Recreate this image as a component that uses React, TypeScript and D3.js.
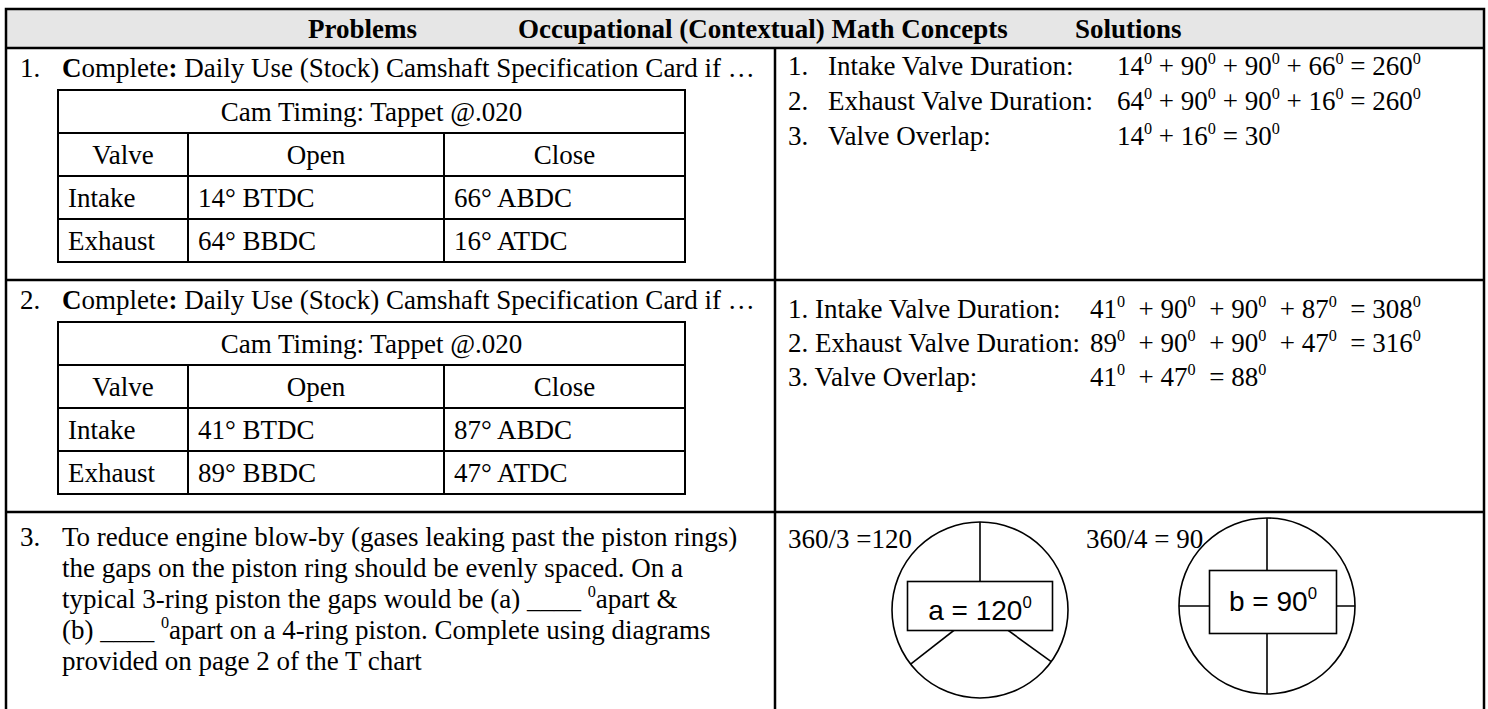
import React from "react";
import * as d3 from "d3";

// ---- content ----
const headers = ["Problems", "Occupational (Contextual) Math Concepts", "Solutions"];
const timingTitle = "Cam Timing: Tappet @.020";
const timingColumns = ["Valve", "Open", "Close"];
const valves = ["Intake", "Exhaust"];
const problem1Open = ["14° BTDC", "64° BBDC"];
const problem1Close = ["66° ABDC", "16° ATDC"];
const problem2Open = ["41° BTDC", "89° BBDC"];
const problem2Close = ["87° ABDC", "47° ATDC"];
const solutionLabels = ["Intake Valve Duration:", "Exhaust Valve Duration:", "Valve Overlap:"];
const problem1Terms = [[14, 90, 90, 66], [64, 90, 90, 16], [14, 16]];
const problem1Totals = [260, 260, 30];
const problem2Terms = [[41, 90, 90, 87], [89, 90, 90, 47], [41, 47]];
const problem2Totals = [308, 316, 88];
const problem3Lines = [
  "To reduce engine blow-by (gases leaking past the piston rings)",
  "the gaps on the piston ring should be evenly spaced. On a",
  "typical 3-ring piston the gaps would be (a) ____ {0}apart &",
  "(b) ____ {0}apart on a 4-ring piston. Complete using diagrams",
  "provided on page 2 of the T chart",
];
const ringCounts = [3, 4];
const ringCaptions = ["360/3 =120", "360/4 = 90"];
const ringNames = ["a", "b"];
const ringGapAngles = [[0, 126, 232], [0, 90, 180, 270]];

// ---- layout ----
const W = 1488;
const H = 709;
const left = 6;
const right = 1484;
const top = 9;
const headBottom = 48;
const divider = 775;
const rowTops = [48, 280, 512];
const serif = "'Liberation Serif', 'Times New Roman', serif";
const sans = "'Liberation Sans', Arial, sans-serif";
const fs = 27;

type Run = { t: string; sup?: boolean; bold?: boolean };

function runsOf(runs: Run[], size: number) {
  let up = false;
  return runs.map((r, i) => {
    let dy: number | undefined;
    if (r.sup && !up) {
      dy = -size * 0.42;
      up = true;
    } else if (!r.sup && up) {
      dy = size * 0.42;
      up = false;
    }
    return (
      <tspan key={i} dy={dy} fontSize={r.sup ? size * 0.6 : undefined} fontWeight={r.bold ? "bold" : undefined}>
        {r.t}
      </tspan>
    );
  });
}

function supText(s: string): Run[] {
  const parts = s.split("{0}");
  const out: Run[] = [];
  parts.forEach((p, i) => {
    if (i > 0) out.push({ t: "0", sup: true });
    if (p) out.push({ t: p });
  });
  return out;
}

function formulaRuns(terms: number[], total: number, wide: boolean): Run[] {
  const out: Run[] = [];
  terms.forEach((v, i) => {
    out.push({ t: String(v) }, { t: "0", sup: true });
    if (i < terms.length - 1) out.push({ t: wide ? "  + " : " + " });
  });
  out.push({ t: wide ? "  = " : " = " }, { t: String(total) }, { t: "0", sup: true });
  return out;
}

function TimingTable({ y0, open, close }: { y0: number; open: string[]; close: string[] }) {
  const cols = [58, 188, 444, 685];
  const y = d3.scaleBand<number>().domain(d3.range(4)).range([y0, y0 + 4 * 43]);
  const bw = y.bandwidth();
  const cy = (i: number) => (y(i) as number) + bw / 2;
  const bottom = y0 + 4 * bw;
  return (
    <g fontFamily={serif} fontSize={fs}>
      <rect x={cols[0]} y={y0} width={cols[3] - cols[0]} height={bottom - y0} fill="none" stroke="#000" strokeWidth={2} />
      {d3.range(1, 4).map((i) => (
        <line key={i} x1={cols[0]} x2={cols[3]} y1={y(i)} y2={y(i)} stroke="#000" strokeWidth={2} />
      ))}
      {[cols[1], cols[2]].map((c) => (
        <line key={c} x1={c} x2={c} y1={y(1)} y2={bottom} stroke="#000" strokeWidth={2} />
      ))}
      <text x={(cols[0] + cols[3]) / 2} y={cy(0)} dy="0.35em" textAnchor="middle">{timingTitle}</text>
      {timingColumns.map((c, j) => (
        <text key={c} x={(cols[j] + cols[j + 1]) / 2} y={cy(1)} dy="0.35em" textAnchor="middle">{c}</text>
      ))}
      {valves.map((v, i) => (
        <g key={v}>
          <text x={cols[0] + 10} y={cy(i + 2)} dy="0.35em">{v}</text>
          <text x={cols[1] + 10} y={cy(i + 2)} dy="0.35em">{open[i]}</text>
          <text x={cols[2] + 10} y={cy(i + 2)} dy="0.35em">{close[i]}</text>
        </g>
      ))}
    </g>
  );
}

function ProblemHeading({ n, y }: { n: number; y: number }) {
  return (
    <g fontFamily={serif} fontSize={fs}>
      <text x={20} y={y} dy="0.35em">{n}.</text>
      <text x={62} y={y} dy="0.35em" style={{ whiteSpace: "pre" }}>
        {runsOf(
          [
            { t: "C", bold: true },
            { t: "omplete" },
            { t: ":", bold: true },
            { t: " Daily Use (Stock) Camshaft Specification Card if …" },
          ],
          fs
        )}
      </text>
    </g>
  );
}

function RingDiagram({ k, cx, cy, box }: { k: number; cx: number; cy: number; box: { w: number; h: number; dx: number; dy: number; ty: number } }) {
  const r = 88;
  const count = ringCounts[k];
  const value = 360 / count;
  const bx = cx + box.dx - box.w / 2;
  const by = cy + box.dy - box.h / 2;
  return (
    <g>
      {ringGapAngles[k].map((a) => {
        const [px, py] = d3.pointRadial((a * Math.PI) / 180, r);
        return <line key={a} x1={cx} y1={cy} x2={cx + px} y2={cy + py} stroke="#000" strokeWidth={1.6} />;
      })}
      <circle cx={cx} cy={cy} r={r} fill="none" stroke="#000" strokeWidth={1.6} />
      <rect x={bx} y={by} width={box.w} height={box.h} fill="#fff" stroke="#000" strokeWidth={1.6} />
      <text x={bx + box.w / 2} y={cy + box.ty} dy="0.35em" textAnchor="middle" fontFamily={sans} fontSize={28}>
        {runsOf([{ t: `${ringNames[k]} = ${value}` }, { t: "0", sup: true }], 28)}
      </text>
    </g>
  );
}

export default function App() {
  const r1Lines = [66, 101, 136];
  const r2Lines = [309, 343, 377];

  return (
    <svg width={W} height={H} style={{ position: "absolute", left: 0, top: 0, display: "block", background: "#fff" }}>
      {/* header band */}
      <rect x={left} y={top} width={right - left} height={headBottom - top} fill="#e6e6e6" />
      <g fontFamily={serif} fontSize={fs} fontWeight="bold">
        <text x={308} y={(top + headBottom) / 2} dy="0.35em">{headers[0]}</text>
        <text x={518} y={(top + headBottom) / 2} dy="0.35em">{headers[1]}</text>
        <text x={1075} y={(top + headBottom) / 2} dy="0.35em">{headers[2]}</text>
      </g>

      {/* grid */}
      <g stroke="#000" strokeWidth={2.5} fill="none">
        <rect x={left} y={top} width={right - left} height={H + 40} />
        {rowTops.map((y) => (
          <line key={y} x1={left} x2={right} y1={y} y2={y} />
        ))}
        <line x1={divider} x2={divider} y1={headBottom} y2={H + 10} />
      </g>

      {/* problems 1 and 2 */}
      <ProblemHeading n={1} y={rowTops[0] + 20} />
      <TimingTable y0={rowTops[0] + 42} open={problem1Open} close={problem1Close} />
      <ProblemHeading n={2} y={rowTops[1] + 20} />
      <TimingTable y0={rowTops[1] + 42} open={problem2Open} close={problem2Close} />

      {/* solutions 1 */}
      <g fontFamily={serif} fontSize={fs}>
        {solutionLabels.map((lab, i) => (
          <g key={lab}>
            <text x={788} y={r1Lines[i]} dy="0.35em">{i + 1}.</text>
            <text x={828} y={r1Lines[i]} dy="0.35em">{lab}</text>
            <text x={1117} y={r1Lines[i]} dy="0.35em" style={{ whiteSpace: "pre" }}>
              {runsOf(formulaRuns(problem1Terms[i], problem1Totals[i], false), fs)}
            </text>
          </g>
        ))}
      </g>

      {/* solutions 2 */}
      <g fontFamily={serif} fontSize={fs}>
        {solutionLabels.map((lab, i) => (
          <g key={lab}>
            <text x={788} y={r2Lines[i]} dy="0.35em">{`${i + 1}. ${lab}`}</text>
            <text x={1090} y={r2Lines[i]} dy="0.35em" style={{ whiteSpace: "pre" }}>
              {runsOf(formulaRuns(problem2Terms[i], problem2Totals[i], true), fs)}
            </text>
          </g>
        ))}
      </g>

      {/* problem 3 */}
      <g fontFamily={serif} fontSize={fs}>
        <text x={20} y={rowTops[2] + 25} dy="0.35em">3.</text>
        {problem3Lines.map((ln, i) => (
          <text key={i} x={62} y={rowTops[2] + 25 + i * 31} dy="0.35em" style={{ whiteSpace: "pre" }}>
            {runsOf(supText(ln), fs)}
          </text>
        ))}
      </g>

      {/* solution 3 diagrams */}
      <g fontFamily={serif} fontSize={fs}>
        <text x={788} y={539} dy="0.35em">{ringCaptions[0]}</text>
        <text x={1086} y={539} dy="0.35em">{ringCaptions[1]}</text>
      </g>
      <RingDiagram k={0} cx={980} cy={610} box={{ w: 145, h: 49, dx: 0, dy: -4, ty: 0 }} />
      <RingDiagram k={1} cx={1267} cy={606} box={{ w: 127, h: 63, dx: 6, dy: -4, ty: -5 }} />
    </svg>
  );
}
